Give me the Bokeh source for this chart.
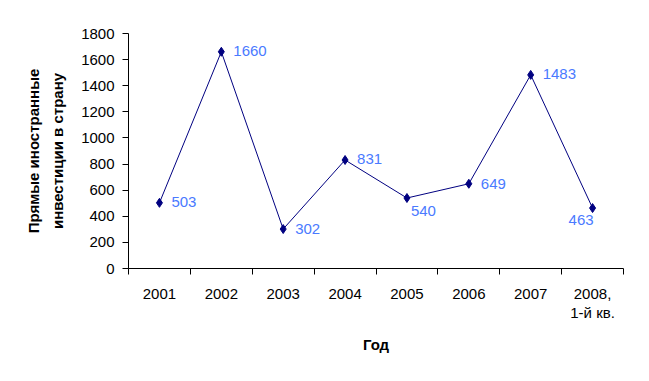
from bokeh.plotting import figure
from bokeh.models import (ColumnDataSource, FactorRange, Range1d, LinearAxis,
                          CategoricalAxis, FixedTicker, CustomJSTickFormatter)
from bokeh.embed import file_html
from bokeh.resources import INLINE
from bokeh.core.properties import value

categories = ["2001", "2002", "2003", "2004", "2005", "2006", "2007", "2008,\n1-й кв."]
investments = [503, 1660, 302, 831, 540, 649, 1483, 463]
labels = ["503", "1660", "302", "831", "540", "649", "1483", "463"]
y_ticks = [0, 200, 400, 600, 800, 1000, 1200, 1400, 1600, 1800]

# label placement (style): pixel offsets of each data label from its point
label_dx = [12, 12, 12, 12, 4, 12, 12, -24]
label_dy = [-1, -1, 0, -1, 13, 0, -1, 12]

FONT = "Liberation Sans"
FS = "15px"
LABEL_COLOR = "#4A7AFF"

src = ColumnDataSource(dict(x=categories, y=investments, t=labels,
                            dx=label_dx, dy=label_dy))

p = figure(x_range=FactorRange(factors=categories), y_range=Range1d(0, 1800),
           width=641, height=373, output_backend="svg", toolbar_location=None,
           x_axis_location=None, min_border_left=128, min_border_top=33,
           min_border_right=18, min_border_bottom=100)
p.frame_width = 495
p.frame_height = 235
p.outline_line_color = None
p.grid.visible = False
p.background_fill_color = "white"
p.border_fill_color = "white"

# y axis
ya = p.yaxis[0]
ya.ticker = FixedTicker(ticks=y_ticks)
ya.minor_tick_line_color = None
ya.major_tick_in = 0
ya.major_tick_out = 6
ya.major_label_standoff = 8
ya.major_label_text_font = FONT
ya.major_label_text_font_size = FS
ya.major_label_text_color = "black"
ya.axis_line_color = "black"
ya.major_tick_line_color = "black"
ya.axis_label = "Прямые иностранные\nинвестиции в страну"
ya.axis_label_text_font = FONT
ya.axis_label_text_font_size = FS
ya.axis_label_text_font_style = "bold"
ya.axis_label_text_color = "black"
ya.axis_label_text_line_height = 1.4
ya.axis_label_standoff = 12

# x tick marks at category boundaries (synthetic coordinates of the factor range)
xt = LinearAxis(ticker=FixedTicker(ticks=list(range(len(categories) + 1))),
                formatter=CustomJSTickFormatter(code="return ''"))
xt.minor_tick_line_color = None
xt.major_tick_in = 0
xt.major_tick_out = 6
xt.major_label_standoff = 0
xt.major_label_text_font_size = "1px"
xt.axis_line_color = "black"
xt.major_tick_line_color = "black"
p.add_layout(xt, "below")

# category labels
xa = CategoricalAxis()
xa.axis_line_color = None
xa.major_tick_line_color = None
xa.major_tick_in = 0
xa.major_tick_out = 0
xa.major_label_standoff = 10
xa.major_label_text_font = FONT
xa.major_label_text_font_size = FS
xa.major_label_text_color = "black"
xa.major_label_text_line_height = 1.15
xa.axis_label = "Год"
xa.axis_label_text_font = FONT
xa.axis_label_text_font_size = FS
xa.axis_label_text_font_style = "bold"
xa.axis_label_text_color = "black"
xa.axis_label_standoff = 12
p.add_layout(xa, "below")

p.line("x", "y", source=src, line_color="#000080", line_width=1)
p.scatter("x", "y", source=src, marker="diamond", size=9,
          fill_color="#000080", line_color="#000080")
p.text("x", "y", text="t", source=src, x_offset="dx", y_offset="dy",
       text_font=value(FONT), text_font_size=FS, text_color=LABEL_COLOR,
       text_align="left", text_baseline="middle")

open("out.html", "w").write(file_html(p, INLINE))
